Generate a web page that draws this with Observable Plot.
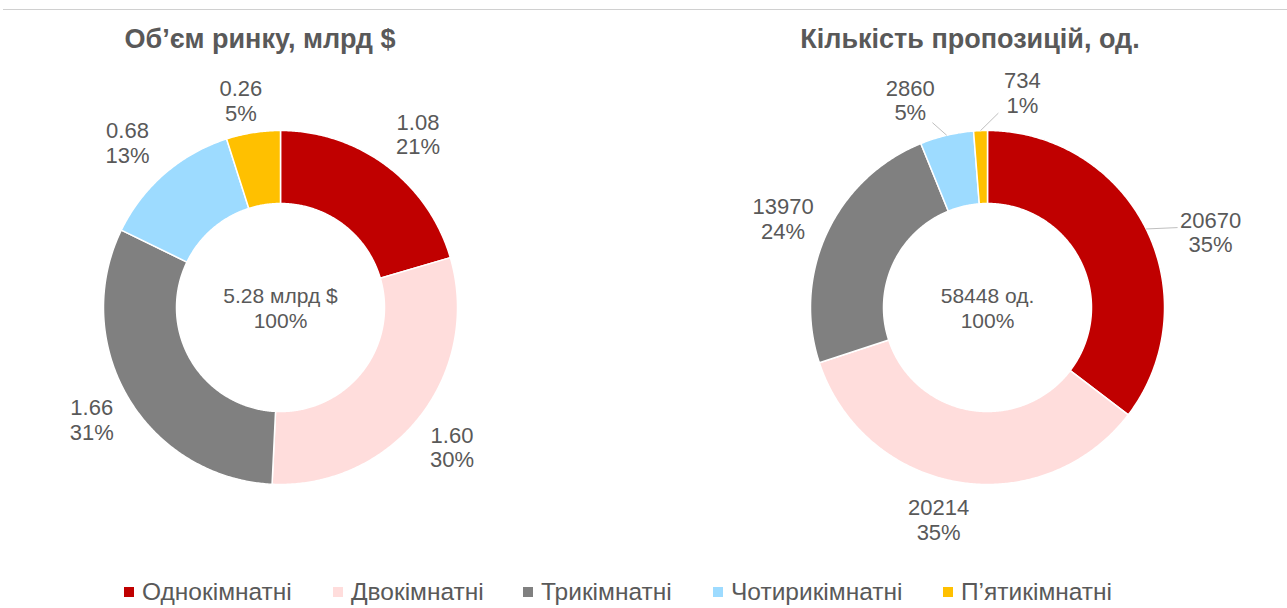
<!DOCTYPE html>
<html><head><meta charset="utf-8">
<script src="https://cdn.jsdelivr.net/npm/d3@7"></script>
<script src="https://cdn.jsdelivr.net/npm/@observablehq/plot@0.6"></script>
<style>
body{margin:0;background:#fff;font-family:"Liberation Sans",Arial,Helvetica,sans-serif;}
#wrap{position:relative;width:1287px;height:608px;overflow:hidden}
#chart{position:absolute;left:0;top:0}
#topline{position:absolute;left:3px;right:0;top:9px;border-top:1.5px solid #d0d0d0}
.title{position:absolute;top:26px;font-family:"Liberation Sans",Arial,sans-serif;font-weight:bold;font-size:27px;color:#595959;transform:translateX(-50%);white-space:nowrap;line-height:27px}
#legend{position:absolute;top:578px;left:0;width:1287px;height:28px;white-space:nowrap;font-size:24.5px;color:#595959;line-height:28px}
#legend .item{position:absolute;top:0;display:flex;align-items:center;gap:8px}
#legend .sw{width:10px;height:10px;display:inline-block}
</style></head>
<body>
<div id="wrap">
  <div id="chart"></div>
  <div id="topline"></div>
  <div class="title" id="t1" style="left:260px"></div>
  <div class="title" id="t2" style="left:970px"></div>
  <div id="legend"></div>
</div>
<script>
// ---- data ----
const categories = ["Однокімнатні", "Двокімнатні", "Трикімнатні", "Чотирикімнатні", "П’ятикімнатні"];
const colors = ["#C00000", "#FFDDDC", "#808080", "#9DDBFF", "#FFC000"];
const titles = ["Об’єм ринку, млрд $", "Кількість пропозицій, од."];
const marketValues = [1.08, 1.60, 1.66, 0.68, 0.26];
const marketLabels = ["1.08", "1.60", "1.66", "0.68", "0.26"];
const marketShares = ["21%", "30%", "31%", "13%", "5%"];
const marketCenter = ["5.28 млрд $", "100%"];
const offerValues = [20670, 20214, 13970, 2860, 734];
const offerLabels = ["20670", "20214", "13970", "2860", "734"];
const offerShares = ["35%", "35%", "24%", "5%", "1%"];
const offerCenter = ["58448 од.", "100%"];

// ---- layout (not data) ----
const R = 177, r = 104;
const legendLeft = [124, 333, 523, 713, 943];
const charts = [
  {values: marketValues, labels: marketLabels, shares: marketShares, center: marketCenter, cx: 280, cy: 307,
   nudge: [1.6, 1, 0, -2, -2], rad: [1.25, 1.25, 1.24, 1.27, 1.19], leader: [null, null, null, null, null]},
  {values: offerValues, labels: offerLabels, shares: offerShares, center: offerCenter, cx: 987, cy: 307,
   nudge: [7.7, 3.4, -1.3, -7.1, 11.5], rad: [1.33, 1.23, 1.26, 1.25, 1.23],
   leader: [[67.2, 1.165], null, null, [343.4, 1.09], [3.2, 1.10]]}
];

const deg = Math.PI / 180;
const pt = (c, a, rr) => ({x: c.cx + rr * Math.sin(a), y: c.cy - rr * Math.cos(a)});

const polys = [], labels = [], leaders = [], centers = [];
charts.forEach((c, ci) => {
  const arcs = d3.pie().sort(null).startAngle(0).endAngle(2 * Math.PI)(c.values);
  arcs.forEach((arc, i) => {
    const a0 = arc.startAngle, a1 = arc.endAngle;
    const n = Math.max(2, Math.ceil((a1 - a0) / (0.5 * deg)));
    const id = ci + "-" + i;
    for (let k = 0; k <= n; k++) polys.push({id, cat: categories[i], ...pt(c, a0 + (a1 - a0) * k / n, R)});
    for (let k = n; k >= 0; k--) polys.push({id, cat: categories[i], ...pt(c, a0 + (a1 - a0) * k / n, r)});
    const mid = (a0 + a1) / 2;
    labels.push({text: c.labels[i] + "\n" + c.shares[i], ...pt(c, mid + c.nudge[i] * deg, R * c.rad[i])});
    if (c.leader[i]) {
      const s = pt(c, mid, R), e = pt(c, c.leader[i][0] * deg, R * c.leader[i][1]);
      leaders.push({x1: s.x, y1: s.y, x2: e.x, y2: e.y});
    }
  });
  centers.push({text: c.center.join("\n"), x: c.cx, y: c.cy});
});

const plot = Plot.plot({
  width: 1287, height: 608, margin: 0,
  style: {fontFamily: "'Liberation Sans', Arial, Helvetica, sans-serif", background: "transparent"},
  x: {domain: [0, 1287], range: [0, 1287], axis: null},
  y: {domain: [0, 608], range: [0, 608], axis: null},
  color: {domain: categories, range: colors},
  marks: [
    Plot.line(polys, {x: "x", y: "y", z: "id", fill: "cat", stroke: "white", strokeWidth: 1.5, curve: "linear-closed"}),
    Plot.link(leaders, {x1: "x1", y1: "y1", x2: "x2", y2: "y2", stroke: "#bfbfbf", strokeWidth: 1}),
    Plot.text(labels, {x: "x", y: "y", text: "text", fill: "#595959", fontSize: 22, lineHeight: 1.12}),
    Plot.text(centers, {x: "x", y: "y", text: "text", fill: "#595959", fontSize: 21, lineHeight: 1.2})
  ]
});
document.getElementById("chart").appendChild(plot);
document.getElementById("t1").textContent = titles[0];
document.getElementById("t2").textContent = titles[1];
const lg = document.getElementById("legend");
categories.forEach((cat, i) => {
  const it = document.createElement("div"); it.className = "item"; it.style.left = legendLeft[i] + "px";
  const sw = document.createElement("span"); sw.className = "sw"; sw.style.background = colors[i];
  const tx = document.createElement("span"); tx.textContent = cat;
  it.appendChild(sw); it.appendChild(tx); lg.appendChild(it);
});
</script>
</body></html>
